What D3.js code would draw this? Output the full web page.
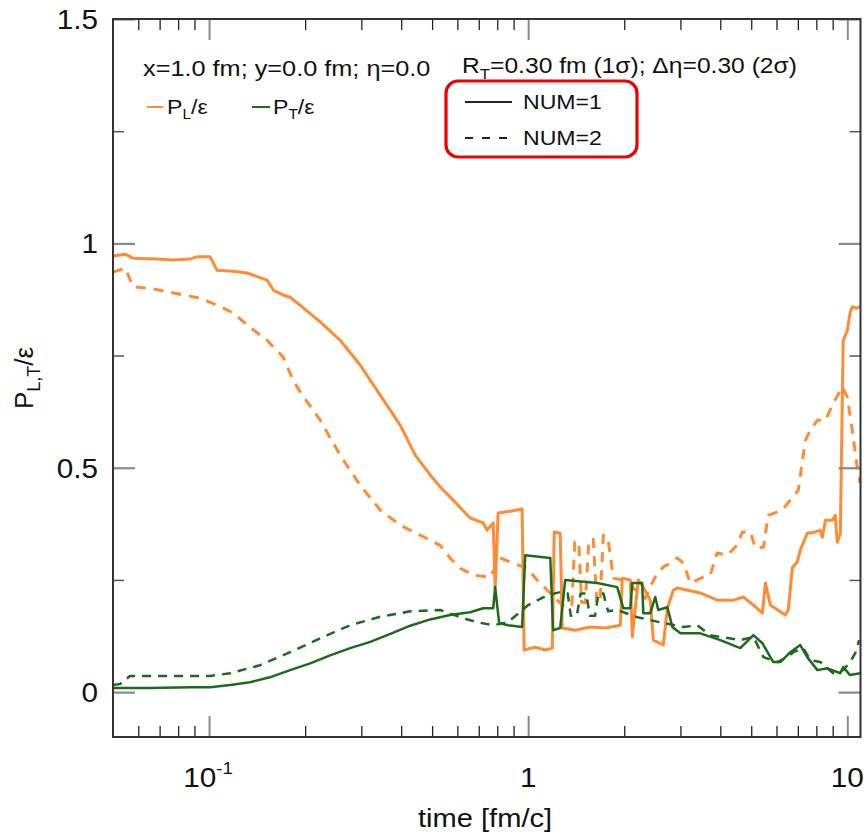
<!DOCTYPE html>
<html>
<head>
<meta charset="utf-8">
<script src="https://cdn.jsdelivr.net/npm/d3@7"></script>
<style>
  html, body { margin: 0; padding: 0; background: #fff; }
  svg text { font-family: "Liberation Sans", Arial, Helvetica, sans-serif; fill: #111; }
</style>
</head>
<body>
<svg id="chart" width="867" height="835"></svg>
<script>
// Longitudinal pressure P_L/eps, NUM=1 (solid)
const timePL1 = [0.05,0.0546,0.0578,0.0687,0.0771,0.0871,0.0916,0.1007,0.106,0.119,0.1315,0.152,0.159,0.1706,0.1795,0.193,0.223,0.2575,0.2975,0.3437,0.3972,0.4426,0.493,0.53,0.569,0.658,0.723,0.743,0.777,0.788,0.805,0.879,0.957,0.971,1.051,1.13,1.19,1.207,1.26,1.279,1.405,1.566,1.745,1.944,1.972,2.09,2.12,2.213,2.294,2.414,2.467,2.65,2.73,2.85,2.93,3.46,3.91,4.4,4.72,5.08,5.42,5.54,5.74,6.39,6.53,6.73,6.97,7.12,7.49,7.94,8.23,8.35,8.54,8.98,9.17,9.3,9.51,9.71,10.0,10.2,10.36,10.74,10.97];
const valPL1 = [0.972,0.976,0.967,0.965,0.963,0.965,0.970,0.970,0.940,0.938,0.934,0.918,0.896,0.885,0.880,0.862,0.825,0.784,0.729,0.662,0.595,0.528,0.484,0.457,0.435,0.388,0.377,0.361,0.377,0.232,0.399,0.403,0.408,0.094,0.100,0.094,0.098,0.357,0.354,0.143,0.138,0.145,0.143,0.149,0.254,0.250,0.123,0.250,0.234,0.205,0.116,0.105,0.187,0.227,0.232,0.221,0.205,0.205,0.212,0.194,0.176,0.243,0.194,0.172,0.183,0.278,0.290,0.316,0.354,0.357,0.361,0.345,0.383,0.383,0.394,0.334,0.354,0.783,0.806,0.845,0.858,0.856,0.860];

// Longitudinal pressure P_L/eps, NUM=2 (dashed)
const timePL2 = [0.05,0.0546,0.0578,0.0653,0.0829,0.0937,0.106,0.119,0.1344,0.152,0.1706,0.1834,0.193,0.223,0.2575,0.2975,0.3437,0.3972,0.4585,0.53,0.569,0.612,0.673,0.76,0.817,0.898,0.993,1.066,1.148,1.233,1.306,1.37,1.40,1.44,1.47,1.51,1.55,1.60,1.64,1.68,1.72,1.78,1.85,1.97,2.12,2.33,2.41,2.5,2.65,2.79,2.93,3.07,3.22,3.54,3.72,3.91,4.21,4.52,4.69,4.97,5.15,5.46,5.65,6.26,6.63,7.02,7.39,7.66,8.06,8.54,9.04,9.65,10.0,10.36,10.74,10.97];
const valPL2 = [0.936,0.945,0.903,0.900,0.885,0.878,0.862,0.845,0.813,0.784,0.747,0.695,0.669,0.606,0.528,0.461,0.406,0.372,0.350,0.327,0.299,0.276,0.261,0.256,0.299,0.287,0.276,0.250,0.227,0.205,0.189,0.194,0.335,0.335,0.200,0.200,0.340,0.340,0.200,0.200,0.350,0.340,0.254,0.250,0.234,0.209,0.234,0.256,0.279,0.287,0.299,0.287,0.243,0.256,0.261,0.310,0.305,0.328,0.357,0.357,0.321,0.323,0.394,0.406,0.428,0.450,0.561,0.584,0.606,0.606,0.644,0.680,0.658,0.584,0.501,0.466];

// Transverse pressure P_T/eps, NUM=1 (solid)
const timePT1 = [0.05,0.0653,0.0871,0.1007,0.1164,0.1344,0.155,0.1795,0.2075,0.2395,0.2768,0.32,0.37,0.427,0.493,0.569,0.658,0.723,0.777,0.788,0.811,0.865,0.957,0.979,1.173,1.197,1.26,1.306,1.647,1.902,1.986,2.09,2.12,2.277,2.294,2.414,2.502,2.556,2.73,2.83,3.0,3.46,4.0,4.62,5.08,5.42,5.86,6.17,6.63,7.12,7.49,8.06,8.66,9.51,9.71,10.2,10.97];
const valPT1 = [0.009,0.009,0.011,0.011,0.016,0.022,0.033,0.049,0.064,0.082,0.098,0.112,0.130,0.148,0.162,0.172,0.178,0.187,0.187,0.234,0.154,0.149,0.145,0.305,0.299,0.138,0.143,0.250,0.243,0.234,0.187,0.187,0.243,0.243,0.176,0.176,0.212,0.183,0.189,0.145,0.131,0.131,0.116,0.098,0.127,0.109,0.067,0.067,0.089,0.105,0.078,0.049,0.053,0.042,0.056,0.038,0.042];

// Transverse pressure P_T/eps, NUM=2 (dashed)
const timePT2 = [0.05,0.0526,0.0565,0.0653,0.0871,0.1007,0.1164,0.1445,0.1795,0.223,0.2768,0.3437,0.4268,0.53,0.612,0.69,0.777,0.865,1.0,1.148,1.26,1.33,1.36,1.42,1.46,1.52,1.56,1.62,1.66,1.72,1.78,1.9,2.2,2.65,3.07,3.39,3.72,4.0,4.62,5.08,5.46,6.04,6.49,6.78,7.28,7.66,8.23,9.04,9.71,10.2,10.59,10.9];
const valPT2 = [0.016,0.018,0.036,0.036,0.036,0.036,0.042,0.060,0.089,0.120,0.149,0.168,0.180,0.183,0.167,0.156,0.149,0.156,0.194,0.216,0.223,0.22,0.17,0.17,0.22,0.22,0.17,0.17,0.22,0.22,0.18,0.183,0.167,0.154,0.145,0.149,0.127,0.123,0.116,0.123,0.078,0.067,0.078,0.089,0.098,0.071,0.067,0.042,0.049,0.067,0.087,0.116];

const xMajorTicks = [0.1, 1, 10];
const xMinorTicks = [0.06,0.07,0.08,0.09,0.2,0.3,0.4,0.5,0.6,0.7,0.8,0.9,2,3,4,5,6,7,8,9];
const yMajorTicks = [0, 0.5, 1, 1.5];
const yMinorTicks = [0.25, 0.75, 1.25];
const yTickLabels = ["0", "0.5", "1", "1.5"];

const ORANGE = "#ff8b35";
const GREEN = "#1d6a1d";

const svg = d3.select("#chart");
const plotLeft = 113, plotRight = 860.5, plotTop = 19, plotBottom = 737;

const x = d3.scaleLog().domain([0.05, 11]).range([plotLeft, plotRight]);
const y = d3.scaleLinear().domain([-0.1, 1.5]).range([plotBottom, plotTop]);

// text stretched slightly wider than the stock sans face
function label(g, px, py, size, anchor, sx) {
  return g.append("text")
    .attr("transform", `translate(${px},${py}) scale(${sx || 1.1},1)`)
    .attr("text-anchor", anchor || "start")
    .style("font-size", size + "px");
}

// --- series ---
const series = [
  { t: timePL1, v: valPL1, color: ORANGE, width: 3, dash: null },
  { t: timePL2, v: valPL2, color: ORANGE, width: 3, dash: "10,8" },
  { t: timePT1, v: valPT1, color: GREEN, width: 2.5, dash: null },
  { t: timePT2, v: valPT2, color: GREEN, width: 2.5, dash: "9,7" }
];
const line = d3.line().x(d => x(d[0])).y(d => y(d[1]));
const plot = svg.append("g");
series.forEach(s => {
  plot.append("path")
    .datum(s.t.map((t, i) => [t, s.v[i]]))
    .attr("d", line)
    .attr("fill", "none")
    .attr("stroke", s.color)
    .attr("stroke-width", s.width)
    .attr("stroke-linejoin", "round")
    .attr("stroke-dasharray", s.dash);
});

// --- inward ticks on all four sides ---
function styleTicks(g, color, w) {
  g.select(".domain").remove();
  g.selectAll(".tick line").attr("stroke", color).attr("stroke-width", w);
  g.selectAll(".tick text").remove();
}
svg.append("g").attr("transform", `translate(0,${plotBottom})`)
  .call(d3.axisBottom(x).tickValues(xMinorTicks).tickSize(-11).tickFormat(""))
  .call(g => styleTicks(g, "#222", 1.3));
svg.append("g").attr("transform", `translate(0,${plotBottom})`)
  .call(d3.axisBottom(x).tickValues(xMajorTicks).tickSize(-21).tickFormat(""))
  .call(g => styleTicks(g, "#8a8a8a", 2));
svg.append("g").attr("transform", `translate(0,${plotTop})`)
  .call(d3.axisTop(x).tickValues(xMinorTicks).tickSize(-11).tickFormat(""))
  .call(g => styleTicks(g, "#222", 1.3));
svg.append("g").attr("transform", `translate(0,${plotTop})`)
  .call(d3.axisTop(x).tickValues(xMajorTicks).tickSize(-21).tickFormat(""))
  .call(g => styleTicks(g, "#8a8a8a", 2));
svg.append("g").attr("transform", `translate(${plotLeft},0)`)
  .call(d3.axisLeft(y).tickValues(yMinorTicks).tickSize(-11).tickFormat(""))
  .call(g => styleTicks(g, "#555", 1.5));
svg.append("g").attr("transform", `translate(${plotLeft},0)`)
  .call(d3.axisLeft(y).tickValues(yMajorTicks).tickSize(-22).tickFormat(""))
  .call(g => styleTicks(g, "#8a8a8a", 2.2));
svg.append("g").attr("transform", `translate(${plotRight},0)`)
  .call(d3.axisRight(y).tickValues(yMinorTicks).tickSize(-11).tickFormat(""))
  .call(g => styleTicks(g, "#555", 1.5));
svg.append("g").attr("transform", `translate(${plotRight},0)`)
  .call(d3.axisRight(y).tickValues(yMajorTicks).tickSize(-22).tickFormat(""))
  .call(g => styleTicks(g, "#8a8a8a", 2.2));

// frame
svg.append("rect")
  .attr("x", plotLeft).attr("y", plotTop)
  .attr("width", plotRight - plotLeft).attr("height", plotBottom - plotTop)
  .attr("fill", "none").attr("stroke", "#333").attr("stroke-width", 2);

// --- tick labels ---
yMajorTicks.forEach((v, i) => {
  label(svg, 98, y(v) + 10, 27, "end").text(yTickLabels[i]);
});
{
  const t = label(svg, x(0.1) - 1, 787, 27, "middle");
  t.append("tspan").text("10");
  t.append("tspan").attr("dy", -13).style("font-size", "17px").text("-1");
}
label(svg, x(1), 787, 27, "middle").text("1");
label(svg, x(10), 787, 27, "middle").text("10");

// axis titles
label(svg, 485, 827, 26, "middle", 1.12).text("time [fm/c]");
{
  const t = svg.append("text")
    .attr("transform", "translate(33,378) rotate(-90)")
    .attr("text-anchor", "middle")
    .style("font-size", "26px");
  t.append("tspan").text("P");
  t.append("tspan").attr("dy", 7).style("font-size", "18px").text("L,T");
  t.append("tspan").attr("dy", -7).text("/ε");
}

// --- annotations ---
label(svg, 143, 76, 22, "start", 1.15).text("x=1.0 fm; y=0.0 fm; η=0.0");
{
  const t = label(svg, 462, 73, 22, "start", 1.12);
  t.append("tspan").text("R");
  t.append("tspan").attr("dy", 6).style("font-size", "15px").text("T");
  t.append("tspan").attr("dy", -6).text("=0.30 fm (1σ); Δη=0.30 (2σ)");
}

// species legend
svg.append("line").attr("x1", 147).attr("x2", 163).attr("y1", 107).attr("y2", 107)
  .attr("stroke", ORANGE).attr("stroke-width", 2);
{
  const t = label(svg, 167, 114, 21);
  t.append("tspan").text("P");
  t.append("tspan").attr("dy", 5).style("font-size", "14px").text("L");
  t.append("tspan").attr("dy", -5).text("/ε");
}
svg.append("line").attr("x1", 252).attr("x2", 270).attr("y1", 107).attr("y2", 107)
  .attr("stroke", GREEN).attr("stroke-width", 2);
{
  const t = label(svg, 273, 114, 21);
  t.append("tspan").text("P");
  t.append("tspan").attr("dy", 5).style("font-size", "14px").text("T");
  t.append("tspan").attr("dy", -5).text("/ε");
}

// line-style legend inside a red rounded box
svg.append("rect")
  .attr("x", 446).attr("y", 81).attr("width", 191).attr("height", 76)
  .attr("rx", 12).attr("ry", 12)
  .attr("fill", "none").attr("stroke", "#ee0000").attr("stroke-width", 3.2);
svg.append("line").attr("x1", 465).attr("x2", 512).attr("y1", 102).attr("y2", 102)
  .attr("stroke", "#222").attr("stroke-width", 2);
label(svg, 523, 109, 21).text("NUM=1");
svg.append("line").attr("x1", 465).attr("x2", 512).attr("y1", 138).attr("y2", 138)
  .attr("stroke", "#222").attr("stroke-width", 2).attr("stroke-dasharray", "8,9");
label(svg, 523, 145, 21).text("NUM=2");
</script>
</body>
</html>
